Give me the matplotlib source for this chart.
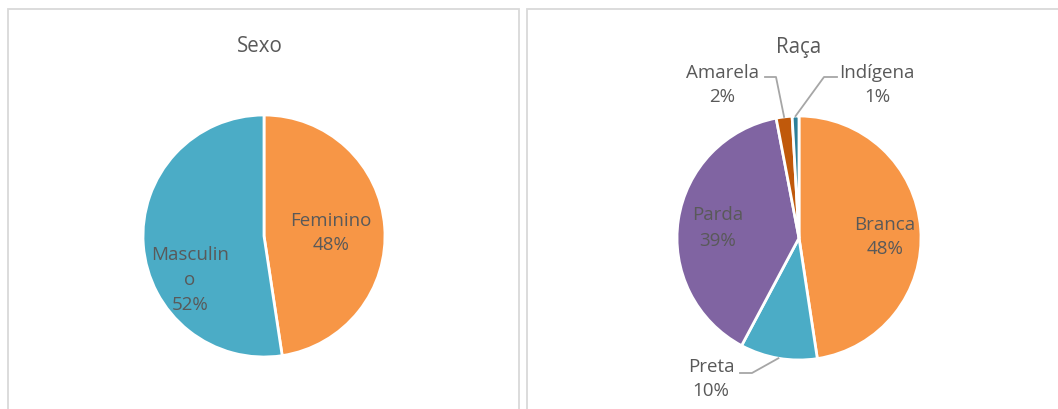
import matplotlib.pyplot as plt
from matplotlib.patches import Rectangle
import numpy as np

plt.rcParams['font.family'] = ['Open Sans', 'DejaVu Sans']

# data
sexo_labels = ["Feminino", "Masculino"]
sexo_values = [47.6, 52.4]
sexo_colors = ["#F79646", "#4BACC6"]

raca_labels = ["Branca", "Preta", "Parda", "Amarela", "Indígena"]
raca_values = [47.6, 10.2, 39.2, 2.1, 0.9]
raca_colors = ["#F79646", "#4BACC6", "#8064A2", "#C0590B", "#2C7F99"]

W, H = 1058, 409
TXT = "#595959"
GRID = "#D9D9D9"
LBL = 13.5
TTL = 14.8
LSP = 1.5

fig = plt.figure(figsize=(W / 100, H / 100), dpi=100)
fig.patch.set_facecolor("white")

# panel borders (pixel coords from top-left)
for x0, x1 in [(8, 519), (527, 1070)]:
    fig.add_artist(Rectangle((x0 / W, -0.05), (x1 - x0) / W, 1 - 9 / H + 0.05,
                             transform=fig.transFigure, fill=False,
                             edgecolor=GRID, linewidth=1.3))


def pie_axes(cx, cy, r):
    ax = fig.add_axes([(cx - r) / W, 1 - (cy + r) / H, 2 * r / W, 2 * r / H])
    ax.set_xlim(-1, 1)
    ax.set_ylim(-1, 1)
    ax.set_aspect("equal")
    ax.axis("off")
    return ax


def pct(v):
    return f"{round(v):d}%"


# ---- Sexo ----
r1 = 121
ax1 = pie_axes(264, 236, r1)
ax1.pie(sexo_values, colors=sexo_colors, startangle=90, counterclock=False,
        radius=1, wedgeprops=dict(edgecolor="white", linewidth=2))
ax1.set_xlim(-1, 1)
ax1.set_ylim(-1, 1)
fig.text(260 / W, 1 - 46 / H, "Sexo", ha="center", va="center",
         fontsize=TTL, color=TXT)
sexo_pos = [(67, -3), (-74, 44)]
sexo_txt = ["Feminino", "Masculin\no"]
for t, v, (dx, dy) in zip(sexo_txt, sexo_values, sexo_pos):
    ax1.text(dx / r1, -dy / r1, t + "\n" + pct(v), ha="center", va="center",
             fontsize=LBL, color=TXT, linespacing=LSP)

# ---- Raça ----
r2 = 122
ax2 = pie_axes(799, 238, r2)
ax2.pie(raca_values, colors=raca_colors, startangle=90, counterclock=False,
        radius=1, wedgeprops=dict(edgecolor="white", linewidth=2))
ax2.set_xlim(-1, 1)
ax2.set_ylim(-1, 1)
fig.text(799 / W, 1 - 47 / H, "Raça", ha="center", va="center",
         fontsize=TTL, color=TXT)

raca_pos = [(86, -1), (-88, 141), (-81, -10), (-77, -153), (78, -153)]
for t, v, (dx, dy) in zip(raca_labels, raca_values, raca_pos):
    ax2.text(dx / r2, -dy / r2, t + "\n" + pct(v), ha="center", va="center",
             fontsize=LBL, color=TXT, linespacing=LSP)

# leader lines for outside labels: (label side start, elbow, slice index)
leaders = {1: [(-59, 135), (-47, 135)],
           3: [(-34, -161), (-23, -161)],
           4: [(38, -161), (25, -161)]}
cum = np.cumsum([0] + raca_values)
for i, pts in leaders.items():
    mid = (cum[i] + cum[i + 1]) / 2 / 100 * 2 * np.pi
    ex, ey = np.sin(mid) * 1.0, np.cos(mid) * 1.0
    xs = [p[0] / r2 for p in pts] + [ex]
    ys = [-p[1] / r2 for p in pts] + [ey]
    ax2.plot(xs, ys, color="#A6A6A6", linewidth=1.3, clip_on=False)

fig.savefig("out.png", dpi=100, facecolor="white")
